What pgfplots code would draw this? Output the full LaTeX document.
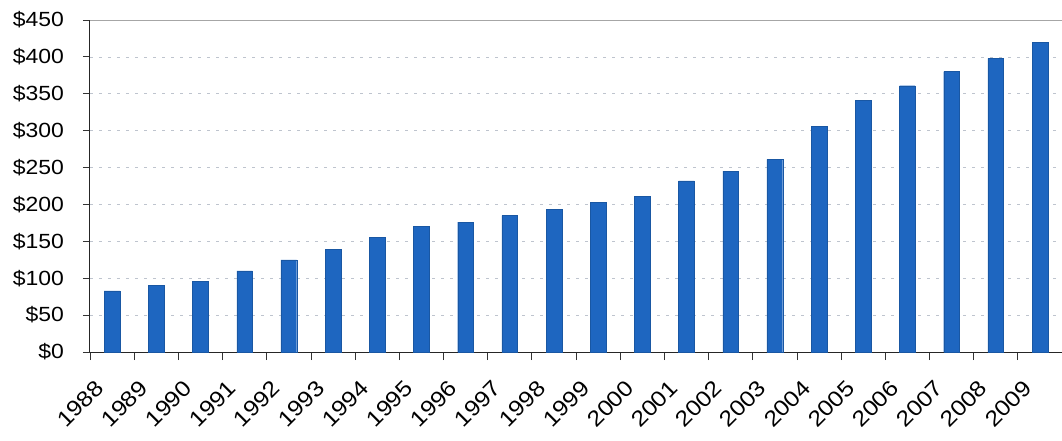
\documentclass[border=0pt]{standalone}
\usepackage{fontspec}
\setmainfont{Liberation Sans}[FakeStretch=1.12]
\usepackage{pgfplots}
\pgfplotsset{compat=1.18}
\definecolor{barblue}{RGB}{30,102,192}
\definecolor{gridgray}{RGB}{190,196,206}

\begin{document}
\fontsize{20.5}{24}\selectfont
\begin{tikzpicture}
\path[use as bounding box] (-90pt,-88pt) rectangle (972pt,352pt);
\begin{axis}[
  at={(0,0)}, anchor=south west,
  scale only axis,
  width=972pt, height=332pt,
  xmin=-0.5, xmax=21.5,
  ymin=0, ymax=450,
  ytick={0,50,...,450},
  yticklabel={\$\pgfmathprintnumber{\tick}},
  /pgf/number format/assume math mode=true,
  xtick={0,...,21},
  xticklabels={1988,1989,1990,1991,1992,1993,1994,1995,1996,1997,1998,1999,2000,2001,2002,2003,2004,2005,2006,2007,2008,2009},
  minor xtick={-0.5,0.5,...,21.5},
  major x tick style={draw=none},
  tick align=outside,
  major tick length=7pt,
  minor tick length=8pt,
  tick style={black!80, line width=0.8pt},
  xticklabel style={xshift=-18pt, yshift=-10pt, rotate=45, anchor=north east,
    font=\fontsize{22}{24}\selectfont},
  yticklabel style={xshift=-12pt},
  axis x line*=bottom,
  axis y line*=left,
  axis line style={black!85, line width=1pt},
  ymajorgrids,
  grid style={gridgray, dash pattern=on 3pt off 6pt, line width=0.7pt},
  ybar, bar width=15.7pt,
  clip=false,
]
\addplot[fill=barblue, draw=barblue!85!black, line width=0.3pt] coordinates {
  (0,83) (1,90) (2,96) (3,110) (4,125) (5,139) (6,155) (7,170)
  (8,176) (9,185) (10,193) (11,203) (12,211) (13,232) (14,245)
  (15,261) (16,306) (17,341) (18,361) (19,380) (20,398) (21,420)
};
\draw[gray!70, line width=1pt] (axis cs:-0.5,450) -- (axis cs:21.5,450);
\end{axis}
\end{tikzpicture}
\end{document}
